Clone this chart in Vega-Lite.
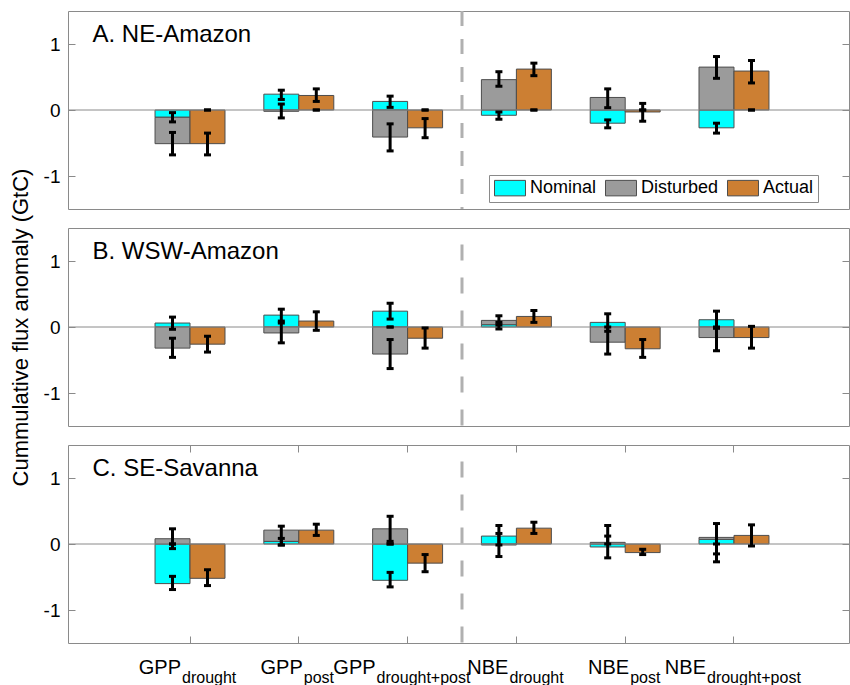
{
  "$schema": "https://vega.github.io/schema/vega-lite/v6.json",
  "background": "white",
  "padding": {"left": 8, "top": 9, "right": 0, "bottom": 0},
  "spacing": 19,
  "bounds": "flush",
  "datasets": {
    "bars": [
      {"region": "A", "group": "GPP_drought", "series": "Nominal", "bar": "ND", "value": -0.11},
      {"region": "A", "group": "GPP_drought", "series": "Disturbed", "bar": "ND", "value": -0.40},
      {"region": "A", "group": "GPP_drought", "series": "Actual", "bar": "A", "value": -0.51},
      {"region": "A", "group": "GPP_post", "series": "Nominal", "bar": "ND", "value": 0.24},
      {"region": "A", "group": "GPP_post", "series": "Disturbed", "bar": "ND", "value": -0.02},
      {"region": "A", "group": "GPP_post", "series": "Actual", "bar": "A", "value": 0.22},
      {"region": "A", "group": "GPP_drought+post", "series": "Nominal", "bar": "ND", "value": 0.13},
      {"region": "A", "group": "GPP_drought+post", "series": "Disturbed", "bar": "ND", "value": -0.41},
      {"region": "A", "group": "GPP_drought+post", "series": "Actual", "bar": "A", "value": -0.27},
      {"region": "A", "group": "NBE_drought", "series": "Nominal", "bar": "ND", "value": -0.08},
      {"region": "A", "group": "NBE_drought", "series": "Disturbed", "bar": "ND", "value": 0.46},
      {"region": "A", "group": "NBE_drought", "series": "Actual", "bar": "A", "value": 0.62},
      {"region": "A", "group": "NBE_post", "series": "Nominal", "bar": "ND", "value": -0.20},
      {"region": "A", "group": "NBE_post", "series": "Disturbed", "bar": "ND", "value": 0.19},
      {"region": "A", "group": "NBE_post", "series": "Actual", "bar": "A", "value": -0.03},
      {"region": "A", "group": "NBE_drought+post", "series": "Nominal", "bar": "ND", "value": -0.27},
      {"region": "A", "group": "NBE_drought+post", "series": "Disturbed", "bar": "ND", "value": 0.65},
      {"region": "A", "group": "NBE_drought+post", "series": "Actual", "bar": "A", "value": 0.59},

      {"region": "B", "group": "GPP_drought", "series": "Nominal", "bar": "ND", "value": 0.06},
      {"region": "B", "group": "GPP_drought", "series": "Disturbed", "bar": "ND", "value": -0.32},
      {"region": "B", "group": "GPP_drought", "series": "Actual", "bar": "A", "value": -0.26},
      {"region": "B", "group": "GPP_post", "series": "Nominal", "bar": "ND", "value": 0.18},
      {"region": "B", "group": "GPP_post", "series": "Disturbed", "bar": "ND", "value": -0.09},
      {"region": "B", "group": "GPP_post", "series": "Actual", "bar": "A", "value": 0.09},
      {"region": "B", "group": "GPP_drought+post", "series": "Nominal", "bar": "ND", "value": 0.24},
      {"region": "B", "group": "GPP_drought+post", "series": "Disturbed", "bar": "ND", "value": -0.41},
      {"region": "B", "group": "GPP_drought+post", "series": "Actual", "bar": "A", "value": -0.17},
      {"region": "B", "group": "NBE_drought", "series": "Nominal", "bar": "ND", "value": 0.035},
      {"region": "B", "group": "NBE_drought", "series": "Disturbed", "bar": "ND", "value": 0.065},
      {"region": "B", "group": "NBE_drought", "series": "Actual", "bar": "A", "value": 0.16},
      {"region": "B", "group": "NBE_post", "series": "Nominal", "bar": "ND", "value": 0.07},
      {"region": "B", "group": "NBE_post", "series": "Disturbed", "bar": "ND", "value": -0.23},
      {"region": "B", "group": "NBE_post", "series": "Actual", "bar": "A", "value": -0.33},
      {"region": "B", "group": "NBE_drought+post", "series": "Nominal", "bar": "ND", "value": 0.11},
      {"region": "B", "group": "NBE_drought+post", "series": "Disturbed", "bar": "ND", "value": -0.16},
      {"region": "B", "group": "NBE_drought+post", "series": "Actual", "bar": "A", "value": -0.16},

      {"region": "C", "group": "GPP_drought", "series": "Nominal", "bar": "ND", "value": -0.60},
      {"region": "C", "group": "GPP_drought", "series": "Disturbed", "bar": "ND", "value": 0.08},
      {"region": "C", "group": "GPP_drought", "series": "Actual", "bar": "A", "value": -0.52},
      {"region": "C", "group": "GPP_post", "series": "Nominal", "bar": "ND", "value": 0.04},
      {"region": "C", "group": "GPP_post", "series": "Disturbed", "bar": "ND", "value": 0.17},
      {"region": "C", "group": "GPP_post", "series": "Actual", "bar": "A", "value": 0.21},
      {"region": "C", "group": "GPP_drought+post", "series": "Nominal", "bar": "ND", "value": -0.55},
      {"region": "C", "group": "GPP_drought+post", "series": "Disturbed", "bar": "ND", "value": 0.23},
      {"region": "C", "group": "GPP_drought+post", "series": "Actual", "bar": "A", "value": -0.29},
      {"region": "C", "group": "NBE_drought", "series": "Nominal", "bar": "ND", "value": 0.12},
      {"region": "C", "group": "NBE_drought", "series": "Disturbed", "bar": "ND", "value": -0.015},
      {"region": "C", "group": "NBE_drought", "series": "Actual", "bar": "A", "value": 0.24},
      {"region": "C", "group": "NBE_post", "series": "Nominal", "bar": "ND", "value": -0.045},
      {"region": "C", "group": "NBE_post", "series": "Disturbed", "bar": "ND", "value": 0.025},
      {"region": "C", "group": "NBE_post", "series": "Actual", "bar": "A", "value": -0.13},
      {"region": "C", "group": "NBE_drought+post", "series": "Nominal", "bar": "ND", "value": 0.07},
      {"region": "C", "group": "NBE_drought+post", "series": "Disturbed", "bar": "ND", "value": 0.03},
      {"region": "C", "group": "NBE_drought+post", "series": "Actual", "bar": "A", "value": 0.13}
    ],
    "err": [
      {"region": "A", "group": "GPP_drought", "bar": "ND", "lo": -0.18, "hi": -0.04},
      {"region": "A", "group": "GPP_drought", "bar": "ND", "lo": -0.68, "hi": -0.34},
      {"region": "A", "group": "GPP_drought", "bar": "A", "lo": -0.68, "hi": -0.35},
      {"region": "A", "group": "GPP_drought", "bar": "A", "lo": 0, "hi": 0},
      {"region": "A", "group": "GPP_post", "bar": "ND", "lo": 0.16, "hi": 0.30},
      {"region": "A", "group": "GPP_post", "bar": "ND", "lo": -0.12, "hi": 0.09},
      {"region": "A", "group": "GPP_post", "bar": "A", "lo": 0.13, "hi": 0.32},
      {"region": "A", "group": "GPP_post", "bar": "A", "lo": 0, "hi": 0},
      {"region": "A", "group": "GPP_drought+post", "bar": "ND", "lo": 0.04, "hi": 0.21},
      {"region": "A", "group": "GPP_drought+post", "bar": "ND", "lo": -0.62, "hi": -0.21},
      {"region": "A", "group": "GPP_drought+post", "bar": "A", "lo": -0.42, "hi": -0.13},
      {"region": "A", "group": "GPP_drought+post", "bar": "A", "lo": 0, "hi": 0},
      {"region": "A", "group": "NBE_drought", "bar": "ND", "lo": 0.36, "hi": 0.58},
      {"region": "A", "group": "NBE_drought", "bar": "ND", "lo": -0.14, "hi": -0.03},
      {"region": "A", "group": "NBE_drought", "bar": "A", "lo": 0.52, "hi": 0.71},
      {"region": "A", "group": "NBE_drought", "bar": "A", "lo": 0, "hi": 0},
      {"region": "A", "group": "NBE_post", "bar": "ND", "lo": 0.035, "hi": 0.32},
      {"region": "A", "group": "NBE_post", "bar": "ND", "lo": -0.27, "hi": -0.15},
      {"region": "A", "group": "NBE_post", "bar": "A", "lo": -0.17, "hi": 0.10},
      {"region": "A", "group": "NBE_post", "bar": "A", "lo": 0, "hi": 0},
      {"region": "A", "group": "NBE_drought+post", "bar": "ND", "lo": 0.48, "hi": 0.81},
      {"region": "A", "group": "NBE_drought+post", "bar": "ND", "lo": -0.35, "hi": -0.20},
      {"region": "A", "group": "NBE_drought+post", "bar": "A", "lo": 0.41, "hi": 0.75},
      {"region": "A", "group": "NBE_drought+post", "bar": "A", "lo": 0, "hi": 0},

      {"region": "B", "group": "GPP_drought", "bar": "ND", "lo": -0.035, "hi": 0.15},
      {"region": "B", "group": "GPP_drought", "bar": "ND", "lo": -0.46, "hi": -0.17},
      {"region": "B", "group": "GPP_drought", "bar": "A", "lo": -0.38, "hi": -0.14},
      {"region": "B", "group": "GPP_post", "bar": "ND", "lo": 0.09, "hi": 0.27},
      {"region": "B", "group": "GPP_post", "bar": "ND", "lo": -0.24, "hi": 0.06},
      {"region": "B", "group": "GPP_post", "bar": "A", "lo": -0.05, "hi": 0.23},
      {"region": "B", "group": "GPP_drought+post", "bar": "ND", "lo": 0.12, "hi": 0.36},
      {"region": "B", "group": "GPP_drought+post", "bar": "ND", "lo": -0.63, "hi": -0.19},
      {"region": "B", "group": "GPP_drought+post", "bar": "ND", "lo": 0, "hi": 0},
      {"region": "B", "group": "GPP_drought+post", "bar": "A", "lo": -0.32, "hi": -0.015},
      {"region": "B", "group": "NBE_drought", "bar": "ND", "lo": 0.03, "hi": 0.17},
      {"region": "B", "group": "NBE_drought", "bar": "ND", "lo": -0.03, "hi": 0.07},
      {"region": "B", "group": "NBE_drought", "bar": "A", "lo": 0.07, "hi": 0.25},
      {"region": "B", "group": "NBE_post", "bar": "ND", "lo": -0.065, "hi": 0.20},
      {"region": "B", "group": "NBE_post", "bar": "ND", "lo": -0.41, "hi": 0.0},
      {"region": "B", "group": "NBE_post", "bar": "A", "lo": -0.46, "hi": -0.19},
      {"region": "B", "group": "NBE_drought+post", "bar": "ND", "lo": -0.02, "hi": 0.24},
      {"region": "B", "group": "NBE_drought+post", "bar": "ND", "lo": -0.36, "hi": 0.0},
      {"region": "B", "group": "NBE_drought+post", "bar": "A", "lo": -0.32, "hi": 0.01},

      {"region": "C", "group": "GPP_drought", "bar": "ND", "lo": -0.07, "hi": 0.23},
      {"region": "C", "group": "GPP_drought", "bar": "ND", "lo": -0.69, "hi": -0.49},
      {"region": "C", "group": "GPP_drought", "bar": "ND", "lo": 0, "hi": 0},
      {"region": "C", "group": "GPP_drought", "bar": "A", "lo": -0.63, "hi": -0.39},
      {"region": "C", "group": "GPP_post", "bar": "ND", "lo": -0.015, "hi": 0.27},
      {"region": "C", "group": "GPP_post", "bar": "ND", "lo": -0.015, "hi": 0.085},
      {"region": "C", "group": "GPP_post", "bar": "A", "lo": 0.13, "hi": 0.30},
      {"region": "C", "group": "GPP_drought+post", "bar": "ND", "lo": 0.04, "hi": 0.42},
      {"region": "C", "group": "GPP_drought+post", "bar": "ND", "lo": 0, "hi": 0},
      {"region": "C", "group": "GPP_drought+post", "bar": "ND", "lo": -0.65, "hi": -0.43},
      {"region": "C", "group": "GPP_drought+post", "bar": "A", "lo": -0.42, "hi": -0.16},
      {"region": "C", "group": "NBE_drought", "bar": "ND", "lo": -0.015, "hi": 0.28},
      {"region": "C", "group": "NBE_drought", "bar": "ND", "lo": -0.19, "hi": 0.16},
      {"region": "C", "group": "NBE_drought", "bar": "A", "lo": 0.16, "hi": 0.33},
      {"region": "C", "group": "NBE_post", "bar": "ND", "lo": 0.0, "hi": 0.28},
      {"region": "C", "group": "NBE_post", "bar": "ND", "lo": -0.21, "hi": 0.12},
      {"region": "C", "group": "NBE_post", "bar": "A", "lo": -0.16, "hi": -0.08},
      {"region": "C", "group": "NBE_drought+post", "bar": "ND", "lo": -0.15, "hi": 0.31},
      {"region": "C", "group": "NBE_drought+post", "bar": "ND", "lo": -0.27, "hi": 0.0},
      {"region": "C", "group": "NBE_drought+post", "bar": "A", "lo": -0.03, "hi": 0.29}
    ]
  },
  "resolve": {"scale": {"x": "independent", "y": "independent"}, "legend": {"color": "independent"}},
  "vconcat": [
    {
      "width": 781, "height": 198,
      "resolve": {"scale": {"x": "independent", "y": "independent"}},
      "layer": [
        {
          "data": {"name": "bars"}, "transform": [{"filter": "datum.region === 'A'"}],
          "mark": {"type": "bar", "stroke": "#4d4d4d", "strokeWidth": 1},
          "encoding": {
            "x": {"field": "group", "type": "nominal", "scale": {"domain": ["GPP_drought", "GPP_post", "GPP_drought+post", "NBE_drought", "NBE_post", "NBE_drought+post"], "range": [0, 788], "paddingInner": 0.357, "paddingOuter": 0.8}, "axis": null},
            "xOffset": {"field": "bar", "type": "nominal", "scale": {"domain": ["ND", "A"], "paddingInner": 0, "paddingOuter": 0}},
            "y": {"field": "value", "type": "quantitative", "stack": "zero", "scale": {"domain": [-1.5, 1.5], "nice": false, "zero": false}, "axis": {"values": [-1, 0, 1], "ticks": false, "labelFontSize": 19, "labelPadding": 8, "labelExpr": "'' + datum.value", "title": null}},
            "color": {"field": "series", "type": "nominal", "scale": {"domain": ["Nominal", "Disturbed", "Actual"], "range": ["#00ffff", "#9b9b9b", "#cc7f33"]},
              "legend": {"orient": "none", "legendX": 421, "legendY": 164, "direction": "horizontal", "title": null, "symbolType": "M-2,-1H2V1H-2Z", "symbolSize": 240, "symbolOffset": 8, "symbolStrokeColor": "#4d4d4d", "symbolStrokeWidth": 1, "symbolOpacity": 1, "labelFontSize": 18, "labelColor": "black", "labelFont": "Liberation Sans", "labelOffset": 11, "columnPadding": 6, "padding": 4, "strokeColor": "#8a8a8a", "fillColor": "white", "labelLimit": 200}},
            "order": {"field": "series", "sort": "descending"}
          }
        },
        {
          "data": {"values": [{}]},
          "mark": {"type": "rule", "color": "#8a8a8a", "strokeWidth": 1},
          "encoding": {"y": {"datum": 0, "type": "quantitative", "scale": {"domain": [-1.5, 1.5], "nice": false, "zero": false}, "axis": {"orient": "right", "values": [-1, 0, 1], "labels": false, "tickSize": -7, "title": null}}}
        },
        {
          "data": {"values": [{}]},
          "mark": {"type": "rule", "color": "#b0b0b0", "strokeWidth": 3, "strokeDash": [15, 13]},
          "encoding": {"x": {"datum": 3.5, "type": "quantitative", "scale": {"domain": [-0.1213, 7.057], "nice": false, "zero": false}, "axis": null}}
        },
        {
          "data": {"name": "err"}, "transform": [{"filter": "datum.region === 'A'"}],
          "mark": {"type": "rule", "color": "black", "strokeWidth": 3},
          "encoding": {
            "x": {"field": "group", "type": "nominal", "scale": {"domain": ["GPP_drought", "GPP_post", "GPP_drought+post", "NBE_drought", "NBE_post", "NBE_drought+post"], "range": [0, 788], "paddingInner": 0.357, "paddingOuter": 0.8}, "axis": null},
            "xOffset": {"field": "bar", "type": "nominal", "scale": {"domain": ["ND", "A"], "paddingInner": 0, "paddingOuter": 0}},
            "y": {"field": "lo", "type": "quantitative", "scale": {"domain": [-1.5, 1.5], "nice": false, "zero": false}, "axis": {"orient": "left", "values": [-1, 0, 1], "labels": false, "tickSize": -7, "title": null}},
            "y2": {"field": "hi"}
          }
        },
        {
          "data": {"name": "err"}, "transform": [{"filter": "datum.region === 'A'"}],
          "mark": {"type": "tick", "color": "black", "thickness": 3, "size": 7, "opacity": 1},
          "encoding": {
            "x": {"field": "group", "type": "nominal", "scale": {"domain": ["GPP_drought", "GPP_post", "GPP_drought+post", "NBE_drought", "NBE_post", "NBE_drought+post"], "range": [0, 788], "paddingInner": 0.357, "paddingOuter": 0.8}, "axis": null},
            "xOffset": {"field": "bar", "type": "nominal", "scale": {"domain": ["ND", "A"], "paddingInner": 0, "paddingOuter": 0}},
            "y": {"field": "lo", "type": "quantitative", "scale": {"domain": [-1.5, 1.5], "nice": false, "zero": false}, "axis": null}
          }
        },
        {
          "data": {"name": "err"}, "transform": [{"filter": "datum.region === 'A'"}],
          "mark": {"type": "tick", "color": "black", "thickness": 3, "size": 7, "opacity": 1},
          "encoding": {
            "x": {"field": "group", "type": "nominal", "scale": {"domain": ["GPP_drought", "GPP_post", "GPP_drought+post", "NBE_drought", "NBE_post", "NBE_drought+post"], "range": [0, 788], "paddingInner": 0.357, "paddingOuter": 0.8},
              "axis": {"orient": "top", "labels": false, "ticks": false, "title": "A. NE-Amazon", "titleX": 24, "titleY": 30, "titleAlign": "left", "titleAnchor": "start", "titleBaseline": "alphabetic", "titleFontSize": 24, "titleAngle": 0}},
            "xOffset": {"field": "bar", "type": "nominal", "scale": {"domain": ["ND", "A"], "paddingInner": 0, "paddingOuter": 0}},
            "y": {"field": "hi", "type": "quantitative", "scale": {"domain": [-1.5, 1.5], "nice": false, "zero": false}, "axis": null}
          }
        }
      ]
    },
    {
      "width": 781, "height": 198,
      "resolve": {"scale": {"x": "independent", "y": "independent"}},
      "layer": [
        {
          "data": {"name": "bars"}, "transform": [{"filter": "datum.region === 'B'"}],
          "mark": {"type": "bar", "stroke": "#4d4d4d", "strokeWidth": 1},
          "encoding": {
            "x": {"field": "group", "type": "nominal", "scale": {"domain": ["GPP_drought", "GPP_post", "GPP_drought+post", "NBE_drought", "NBE_post", "NBE_drought+post"], "range": [0, 788], "paddingInner": 0.357, "paddingOuter": 0.8}, "axis": null},
            "xOffset": {"field": "bar", "type": "nominal", "scale": {"domain": ["ND", "A"], "paddingInner": 0, "paddingOuter": 0}},
            "y": {"field": "value", "type": "quantitative", "stack": "zero", "scale": {"domain": [-1.5, 1.5], "nice": false, "zero": false}, "axis": {"values": [-1, 0, 1], "ticks": false, "labelFontSize": 19, "labelPadding": 8, "labelExpr": "'' + datum.value", "title": "Cummulative flux anomaly (GtC)", "titleFontSize": 22, "titlePadding": 11}},
            "color": {"field": "series", "type": "nominal", "scale": {"domain": ["Nominal", "Disturbed", "Actual"], "range": ["#00ffff", "#9b9b9b", "#cc7f33"]}, "legend": null},
            "order": {"field": "series", "sort": "descending"}
          }
        },
        {
          "data": {"values": [{}]},
          "mark": {"type": "rule", "color": "#8a8a8a", "strokeWidth": 1},
          "encoding": {"y": {"datum": 0, "type": "quantitative", "scale": {"domain": [-1.5, 1.5], "nice": false, "zero": false}, "axis": {"orient": "right", "values": [-1, 0, 1], "labels": false, "tickSize": -7, "title": null}}}
        },
        {
          "data": {"values": [{}]},
          "mark": {"type": "rule", "color": "#b0b0b0", "strokeWidth": 3, "strokeDash": [16, 17], "strokeDashOffset": 16.5},
          "encoding": {"x": {"datum": 3.5, "type": "quantitative", "scale": {"domain": [-0.1213, 7.057], "nice": false, "zero": false}, "axis": null}}
        },
        {
          "data": {"name": "err"}, "transform": [{"filter": "datum.region === 'B'"}],
          "mark": {"type": "rule", "color": "black", "strokeWidth": 3},
          "encoding": {
            "x": {"field": "group", "type": "nominal", "scale": {"domain": ["GPP_drought", "GPP_post", "GPP_drought+post", "NBE_drought", "NBE_post", "NBE_drought+post"], "range": [0, 788], "paddingInner": 0.357, "paddingOuter": 0.8}, "axis": null},
            "xOffset": {"field": "bar", "type": "nominal", "scale": {"domain": ["ND", "A"], "paddingInner": 0, "paddingOuter": 0}},
            "y": {"field": "lo", "type": "quantitative", "scale": {"domain": [-1.5, 1.5], "nice": false, "zero": false}, "axis": {"orient": "left", "values": [-1, 0, 1], "labels": false, "tickSize": -7, "title": null}},
            "y2": {"field": "hi"}
          }
        },
        {
          "data": {"name": "err"}, "transform": [{"filter": "datum.region === 'B'"}],
          "mark": {"type": "tick", "color": "black", "thickness": 3, "size": 7, "opacity": 1},
          "encoding": {
            "x": {"field": "group", "type": "nominal", "scale": {"domain": ["GPP_drought", "GPP_post", "GPP_drought+post", "NBE_drought", "NBE_post", "NBE_drought+post"], "range": [0, 788], "paddingInner": 0.357, "paddingOuter": 0.8}, "axis": null},
            "xOffset": {"field": "bar", "type": "nominal", "scale": {"domain": ["ND", "A"], "paddingInner": 0, "paddingOuter": 0}},
            "y": {"field": "lo", "type": "quantitative", "scale": {"domain": [-1.5, 1.5], "nice": false, "zero": false}, "axis": null}
          }
        },
        {
          "data": {"name": "err"}, "transform": [{"filter": "datum.region === 'B'"}],
          "mark": {"type": "tick", "color": "black", "thickness": 3, "size": 7, "opacity": 1},
          "encoding": {
            "x": {"field": "group", "type": "nominal", "scale": {"domain": ["GPP_drought", "GPP_post", "GPP_drought+post", "NBE_drought", "NBE_post", "NBE_drought+post"], "range": [0, 788], "paddingInner": 0.357, "paddingOuter": 0.8},
              "axis": {"orient": "top", "labels": false, "ticks": false, "title": "B. WSW-Amazon", "titleX": 24, "titleY": 30, "titleAlign": "left", "titleAnchor": "start", "titleBaseline": "alphabetic", "titleFontSize": 24, "titleAngle": 0}},
            "xOffset": {"field": "bar", "type": "nominal", "scale": {"domain": ["ND", "A"], "paddingInner": 0, "paddingOuter": 0}},
            "y": {"field": "hi", "type": "quantitative", "scale": {"domain": [-1.5, 1.5], "nice": false, "zero": false}, "axis": null}
          }
        }
      ]
    },
    {
      "width": 781, "height": 198,
      "resolve": {"scale": {"x": "independent", "y": "independent"}},
      "layer": [
        {
          "data": {"name": "bars"}, "transform": [{"filter": "datum.region === 'C'"}],
          "mark": {"type": "bar", "stroke": "#4d4d4d", "strokeWidth": 1},
          "encoding": {
            "x": {"field": "group", "type": "nominal", "scale": {"domain": ["GPP_drought", "GPP_post", "GPP_drought+post", "NBE_drought", "NBE_post", "NBE_drought+post"], "range": [0, 788], "paddingInner": 0.357, "paddingOuter": 0.8},
              "axis": {"orient": "bottom", "ticks": false, "labelExpr": "split(datum.value, '_')[0]", "labelAlign": "right", "labelOffset": {"expr": "datum.value === 'GPP_drought' ? -9 : datum.value === 'GPP_post' ? 4 : datum.value === 'GPP_drought+post' ? -32 : datum.value === 'NBE_drought' ? -8 : datum.value === 'NBE_post' ? 4 : -28"}, "labelPadding": 14, "labelFontSize": 20, "labelAngle": 0, "labelOverlap": false, "labelBound": false, "labelFlush": false, "labelBaseline": "top", "title": null}},
            "xOffset": {"field": "bar", "type": "nominal", "scale": {"domain": ["ND", "A"], "paddingInner": 0, "paddingOuter": 0}},
            "y": {"field": "value", "type": "quantitative", "stack": "zero", "scale": {"domain": [-1.5, 1.5], "nice": false, "zero": false}, "axis": {"values": [-1, 0, 1], "ticks": false, "labelFontSize": 19, "labelPadding": 8, "labelExpr": "'' + datum.value", "title": null}},
            "color": {"field": "series", "type": "nominal", "scale": {"domain": ["Nominal", "Disturbed", "Actual"], "range": ["#00ffff", "#9b9b9b", "#cc7f33"]}, "legend": null},
            "order": {"field": "series", "sort": "descending"}
          }
        },
        {
          "data": {"values": [{}]},
          "mark": {"type": "rule", "color": "#8a8a8a", "strokeWidth": 1},
          "encoding": {"y": {"datum": 0, "type": "quantitative", "scale": {"domain": [-1.5, 1.5], "nice": false, "zero": false}, "axis": {"orient": "right", "values": [-1, 0, 1], "labels": false, "tickSize": -7, "title": null}}}
        },
        {
          "data": {"values": [{}]},
          "mark": {"type": "rule", "color": "#b0b0b0", "strokeWidth": 3, "strokeDash": [16, 17], "strokeDashOffset": 16.5},
          "encoding": {"x": {"datum": 3.5, "type": "quantitative", "scale": {"domain": [-0.1213, 7.057], "nice": false, "zero": false}, "axis": null}}
        },
        {
          "data": {"name": "err"}, "transform": [{"filter": "datum.region === 'C'"}],
          "mark": {"type": "rule", "color": "black", "strokeWidth": 3},
          "encoding": {
            "x": {"field": "group", "type": "nominal", "scale": {"domain": ["GPP_drought", "GPP_post", "GPP_drought+post", "NBE_drought", "NBE_post", "NBE_drought+post"], "range": [0, 788], "paddingInner": 0.357, "paddingOuter": 0.8},
              "axis": {"orient": "bottom", "ticks": false, "labelExpr": "split(datum.value, '_')[1]", "labelAlign": "left", "labelOffset": {"expr": "datum.value === 'GPP_drought' ? -8 : datum.value === 'GPP_post' ? 5 : datum.value === 'GPP_drought+post' ? -31 : datum.value === 'NBE_drought' ? -7 : datum.value === 'NBE_post' ? 5 : -27"}, "labelPadding": 26, "labelFontSize": 16, "labelAngle": 0, "labelOverlap": false, "labelBound": false, "labelFlush": false, "labelBaseline": "top", "title": null}},
            "xOffset": {"field": "bar", "type": "nominal", "scale": {"domain": ["ND", "A"], "paddingInner": 0, "paddingOuter": 0}},
            "y": {"field": "lo", "type": "quantitative", "scale": {"domain": [-1.5, 1.5], "nice": false, "zero": false}, "axis": {"orient": "left", "values": [-1, 0, 1], "labels": false, "tickSize": -7, "title": null}},
            "y2": {"field": "hi"}
          }
        },
        {
          "data": {"name": "err"}, "transform": [{"filter": "datum.region === 'C'"}],
          "mark": {"type": "tick", "color": "black", "thickness": 3, "size": 7, "opacity": 1},
          "encoding": {
            "x": {"field": "group", "type": "nominal", "scale": {"domain": ["GPP_drought", "GPP_post", "GPP_drought+post", "NBE_drought", "NBE_post", "NBE_drought+post"], "range": [0, 788], "paddingInner": 0.357, "paddingOuter": 0.8},
              "axis": {"orient": "bottom", "labels": false, "tickSize": -7, "title": null}},
            "xOffset": {"field": "bar", "type": "nominal", "scale": {"domain": ["ND", "A"], "paddingInner": 0, "paddingOuter": 0}},
            "y": {"field": "lo", "type": "quantitative", "scale": {"domain": [-1.5, 1.5], "nice": false, "zero": false}, "axis": null}
          }
        },
        {
          "data": {"name": "err"}, "transform": [{"filter": "datum.region === 'C'"}],
          "mark": {"type": "tick", "color": "black", "thickness": 3, "size": 7, "opacity": 1},
          "encoding": {
            "x": {"field": "group", "type": "nominal", "scale": {"domain": ["GPP_drought", "GPP_post", "GPP_drought+post", "NBE_drought", "NBE_post", "NBE_drought+post"], "range": [0, 788], "paddingInner": 0.357, "paddingOuter": 0.8},
              "axis": {"orient": "top", "labels": false, "tickSize": -7, "title": "C. SE-Savanna", "titleX": 24, "titleY": 30, "titleAlign": "left", "titleAnchor": "start", "titleBaseline": "alphabetic", "titleFontSize": 24, "titleAngle": 0}},
            "xOffset": {"field": "bar", "type": "nominal", "scale": {"domain": ["ND", "A"], "paddingInner": 0, "paddingOuter": 0}},
            "y": {"field": "hi", "type": "quantitative", "scale": {"domain": [-1.5, 1.5], "nice": false, "zero": false}, "axis": null}
          }
        }
      ]
    }
  ],
  "config": {
    "font": "Liberation Sans",
    "view": {"stroke": "#8a8a8a", "strokeWidth": 1},
    "axis": {"grid": false, "domain": false, "labelFont": "Liberation Sans", "labelColor": "black", "tickColor": "#8a8a8a", "tickWidth": 1, "titleFont": "Liberation Sans", "titleFontWeight": "normal", "titleColor": "black"}
  }
}
